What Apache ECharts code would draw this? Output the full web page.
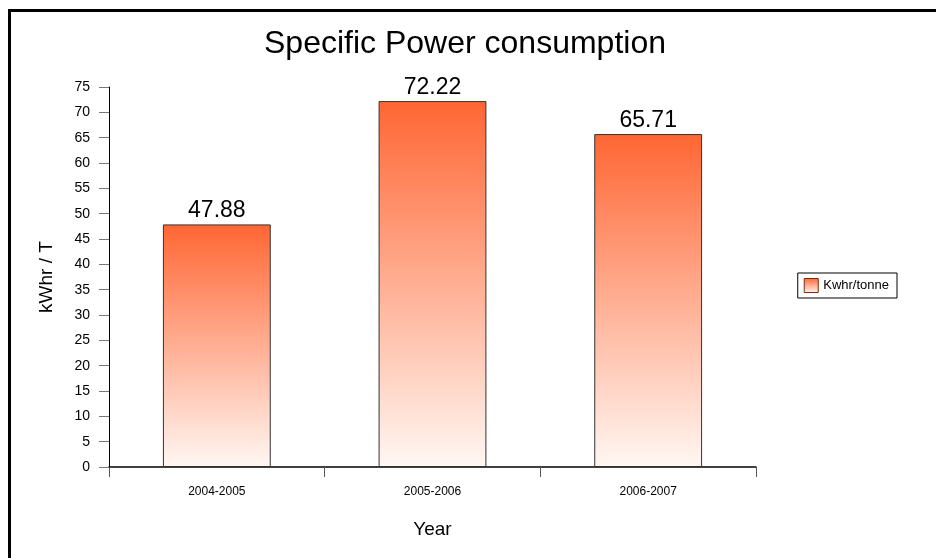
<!DOCTYPE html>
<html>
<head>
<meta charset="utf-8">
<script src="https://cdn.jsdelivr.net/npm/echarts@6/dist/echarts.min.js"></script>
<style>
  html, body { margin: 0; padding: 0; background: #fff; }
  #chart { width: 936px; height: 558px; }
</style>
</head>
<body>
<div id="chart"></div>
<script>
// Specific power consumption per financial year
const categories = ['2004-2005', '2005-2006', '2006-2007'];
const kwhPerTonne = [47.88, 72.22, 65.71];
const seriesName = 'Kwhr/tonne';

const FONT = '"Liberation Sans", Arial, sans-serif';
const chart = echarts.init(document.getElementById('chart'));

const barFill = new echarts.graphic.LinearGradient(0, 0, 0, 1, [
  { offset: 0, color: '#FF6633' },
  { offset: 1, color: '#FFF7F3' }
]);

chart.setOption({
  animation: false,
  backgroundColor: '#ffffff',
  textStyle: { fontFamily: FONT, color: '#000' },
  title: {
    text: 'Specific Power consumption',
    left: 460, top: 23,
    textAlign: 'center',
    textStyle: { fontFamily: FONT, fontSize: 32, fontWeight: 'normal', color: '#000' }
  },
  legend: {
    data: [{ name: seriesName, icon: 'rect' }],
    right: 39, top: 273,
    orient: 'vertical',
    itemWidth: 14, itemHeight: 14,
    padding: [5, 8, 5, 6],
    borderColor: '#000', borderWidth: 1,
    itemStyle: { borderColor: '#7a2a10', borderWidth: 1 },
    textStyle: { fontFamily: FONT, fontSize: 13, color: '#000' }
  },
  grid: { left: 109, right: 180, top: 87, bottom: 91, containLabel: false },
  xAxis: {
    type: 'category',
    data: categories,
    name: 'Year',
    nameLocation: 'middle',
    nameGap: 53,
    nameTextStyle: { fontFamily: FONT, fontSize: 19, color: '#000' },
    axisLine: { lineStyle: { color: '#000', width: 1.5 } },
    axisTick: { show: true, length: 10, lineStyle: { color: '#555' } },
    axisLabel: { margin: 19, fontFamily: FONT, fontSize: 12, color: '#000' }
  },
  yAxis: {
    type: 'value',
    min: 0, max: 75, interval: 5,
    name: 'kWhr / T',
    nameLocation: 'middle',
    nameGap: 53,
    nameTextStyle: { fontFamily: FONT, fontSize: 19, color: '#000' },
    axisLine: { show: true, lineStyle: { color: '#000', width: 1 } },
    axisTick: { show: true, length: 10, lineStyle: { color: '#777' } },
    splitLine: { show: false },
    axisLabel: { margin: 19, fontFamily: FONT, fontSize: 14, color: '#000' }
  },
  series: [{
    name: seriesName,
    type: 'bar',
    data: kwhPerTonne,
    barWidth: '50%',
    itemStyle: { color: barFill, borderColor: '#333', borderWidth: 1 },
    label: {
      show: true,
      position: 'top',
      distance: 2,
      fontFamily: FONT,
      fontSize: 23,
      color: '#000',
      formatter: p => p.value.toFixed(2)
    }
  }],
  graphic: [
    // frame: left and top edges
    { type: 'line', shape: { x1: 9.5, y1: 10.5, x2: 936, y2: 10.5 }, style: { stroke: '#000', lineWidth: 3 } },
    { type: 'line', shape: { x1: 9.5, y1: 9, x2: 9.5, y2: 558 }, style: { stroke: '#000', lineWidth: 3 } }
  ]
});
</script>
</body>
</html>
